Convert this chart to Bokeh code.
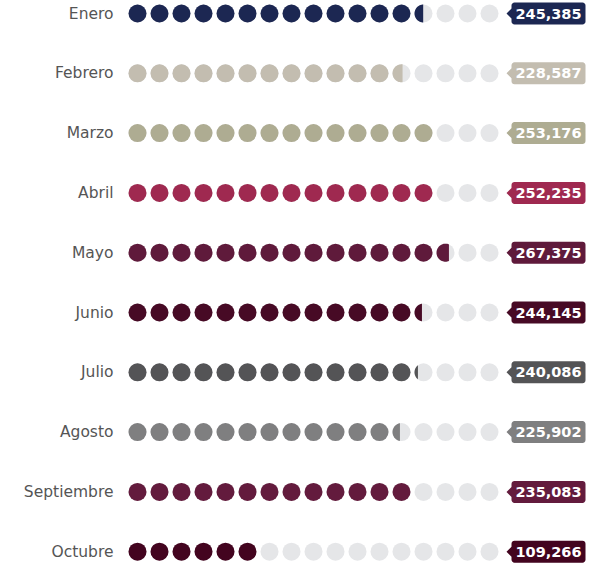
import math
from bokeh.plotting import figure
from bokeh.models import Range1d, ColumnDataSource
from bokeh.core.properties import value
from bokeh.embed import file_html
from bokeh.resources import INLINE

# ---- data ----
months = ["Enero", "Febrero", "Marzo", "Abril", "Mayo", "Junio",
          "Julio", "Agosto", "Septiembre", "Octubre"]
values = [245385, 228587, 253176, 252235, 267375, 244145,
          240086, 225902, 235083, 109266]
colors = ["#1c2752", "#c3bdb0", "#aeac92", "#9f2950", "#5f1a3b", "#470a25",
          "#545456", "#7f7f80", "#631b3d", "#43041f"]
unit = 18200          # value represented by one dot
n_dots = 17
empty_color = "#e5e6e8"

# ---- layout (pixels, frame coordinates) ----
W, H = 586, 563
x_px0, x_step = 137, 22.0      # first dot centre, dot spacing
y_px0, y_step = 13, 59.8       # first row centre, row spacing
r_px = 9
sx = 1 / x_step
sy = 1 / y_step

x_start = -x_px0 * sx
x_end = x_start + W * sx
y_top = -y_px0 * sy
y_bot = y_top + H * sy

p = figure(width=W, height=H, output_backend="svg", toolbar_location=None,
           x_range=Range1d(x_start, x_end), y_range=Range1d(y_bot, y_top),
           min_border=0)
p.axis.visible = False
p.grid.visible = False
p.outline_line_color = None
p.background_fill_color = "white"
p.border_fill_color = "white"

ex, ey = [], []
fx, fy, fc = [], [], []
px_xs, px_ys, px_c = [], [], []
for k, (v, c) in enumerate(zip(values, colors)):
    units = v / unit
    n = int(math.floor(units))
    f = units - n
    if f >= 0.85:
        n += 1
        f = 0.0
    for i in range(n_dots):
        ex.append(i); ey.append(k)
    for i in range(n):
        fx.append(i); fy.append(k); fc.append(c)
    if f > 0.05 and n < n_dots:
        xc = -r_px + 2 * r_px * f
        t0 = math.acos(max(-1, min(1, xc / r_px)))
        pts = 40
        xs, ys = [], []
        for j in range(pts + 1):
            t = t0 + (2 * math.pi - 2 * t0) * j / pts
            xs.append(n + r_px * math.cos(t) * sx)
            ys.append(k + r_px * math.sin(t) * sy)
        px_xs.append(xs); px_ys.append(ys); px_c.append(c)

p.scatter(ex, ey, size=2 * r_px, color=empty_color, line_color=None)
p.scatter(fx, fy, size=2 * r_px, fill_color=fc, line_color=None)
if px_xs:
    p.patches(px_xs, px_ys, fill_color=px_c, line_color=None)

# month labels
lab_src = ColumnDataSource(dict(x=[-24.0 * sx] * len(months),
                                y=list(range(len(months))), t=months))
p.text("x", "y", text="t", source=lab_src, text_align="right",
       text_baseline="middle", text_font=value("DejaVu Sans"),
       text_font_size="15.5px", text_color="#555555")

# value badges
b_left, b_right, b_tip = 511, 585, 506
b_half, a_half, rad = 11, 5, 3

def badge(k):
    L = (b_left - x_px0); R = (b_right - x_px0); T = (b_tip - x_px0)
    pts = []
    def arc(cx, cy, a0, a1):
        out = []
        for j in range(5):
            a = a0 + (a1 - a0) * j / 4
            out.append((cx + rad * math.cos(a), cy + rad * math.sin(a)))
        return out
    pts += arc(L + rad, -b_half + rad, math.pi, 1.5 * math.pi)
    pts += arc(R - rad, -b_half + rad, 1.5 * math.pi, 2 * math.pi)
    pts += arc(R - rad, b_half - rad, 0, 0.5 * math.pi)
    pts += arc(L + rad, b_half - rad, 0.5 * math.pi, math.pi)
    pts += [(L, a_half), (T, 0), (L, -a_half)]
    xs = [px * sx for px, _ in pts]
    ys = [k + py * sy for _, py in pts]
    return xs, ys

bxs, bys = [], []
for k in range(len(values)):
    xs, ys = badge(k)
    bxs.append(xs); bys.append(ys)
p.patches(bxs, bys, fill_color=colors, line_color=None)

val_src = ColumnDataSource(dict(
    x=[((b_left + b_right) / 2 - x_px0) * sx] * len(values),
    y=list(range(len(values))),
    t=[f"{v:,}" for v in values]))
p.text("x", "y", text="t", source=val_src, text_align="center",
       text_baseline="middle", text_font=value("DejaVu Sans"),
       text_font_style="bold", text_font_size="14.5px", text_color="white")

open("out.html", "w").write(file_html(p, INLINE))
